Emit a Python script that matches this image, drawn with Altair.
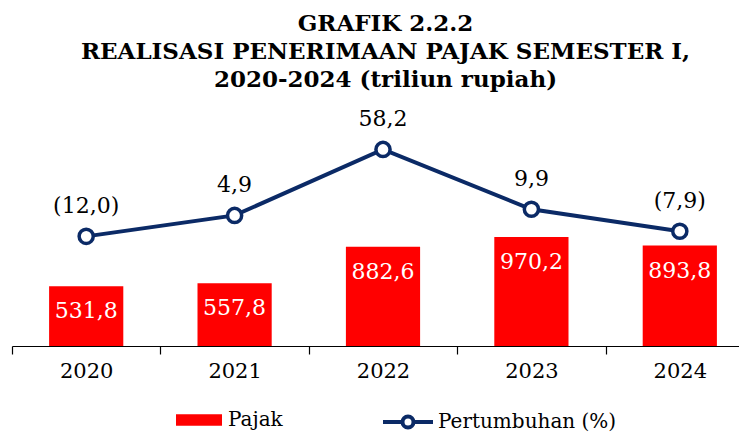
import altair as alt
import pandas as pd

years = ["2020", "2021", "2022", "2023", "2024"]
pajak = [531.8, 557.8, 882.6, 970.2, 893.8]
growth = [-12.0, 4.9, 58.2, 9.9, -7.9]
pajak_labels = ["531,8", "557,8", "882,6", "970,2", "893,8"]
growth_labels = ["(12,0)", "4,9", "58,2", "9,9", "(7,9)"]
series_bar = "Pajak"
series_line = "Pertumbuhan (%)"

df = pd.DataFrame({
    "year": years,
    "pajak": pajak,
    "growth": growth,
    "pl": pajak_labels,
    "gl": growth_labels,
    "s1": [series_bar] * len(years),
    "s2": [series_line] * len(years),
})

RED = "#FF0000"
NAVY = "#0B2A66"
FONT = "DejaVu Serif"

x = alt.X("year:N", sort=years, title=None,
          scale=alt.Scale(paddingInner=0, paddingOuter=0, range=[0, 742]),
          axis=alt.Axis(labelAngle=0, labelFont=FONT, labelFontSize=21, labelColor="#000",
                        labelPadding=6, tickBand="extent", tickSize=8, tickColor="#000",
                        domainColor="#000", domainWidth=1.2, tickWidth=1.2, grid=False))
y_bar = alt.Y("pajak:Q", scale=alt.Scale(domain=[0, 2100]), axis=None)
y_line = alt.Y("growth:Q", scale=alt.Scale(domain=[-100.5, 90]), axis=None)

base = alt.Chart(df)

bars = base.mark_bar(color=RED, width=alt.RelativeBandSize(0.5)).encode(
    x=x, y=y_bar,
    fill=alt.Fill("s1:N", scale=alt.Scale(domain=[series_bar], range=[RED]),
                  legend=alt.Legend(title=None, orient="none", legendX=164, legendY=287,
                                    symbolType="M-1,-0.25H1V0.25H-1Z", symbolSize=2116,
                                    symbolStrokeWidth=0, labelFont=FONT, labelFontSize=20,
                                    labelColor="#000", labelOffset=6, labelLimit=300, padding=0)),
)
bar_text = base.mark_text(dy=25, baseline="middle", color="white", font=FONT, fontSize=22).encode(
    x=x, y=y_bar, text="pl:N")

line = base.mark_line(strokeWidth=4).encode(
    x=x, y=y_line,
    stroke=alt.Stroke("s2:N", scale=alt.Scale(domain=[series_line], range=[NAVY]),
                      legend=alt.Legend(title=None, orient="none", legendX=369, legendY=285,
                                        symbolType="M-1,0H-0.22M0.22,0H1M0.22,0A0.22,0.22 0 1,1 -0.22,0A0.22,0.22 0 1,1 0.22,0",
                                        symbolSize=2500, symbolStrokeWidth=4,
                                        symbolFillColor="white", labelFont=FONT, labelFontSize=20,
                                        labelColor="#000", labelOffset=3, labelLimit=300, padding=0)),
)
points = base.mark_point(shape="circle", filled=True, fill="white", stroke=NAVY,
                         strokeWidth=3.5, size=200, opacity=1).encode(x=x, y=y_line)
growth_text = base.mark_text(dy=-30, baseline="middle", color="#000", font=FONT, fontSize=22).encode(
    x=x, y=y_line, text="gl:N")

chart = alt.layer(bars, bar_text, line, points, growth_text).resolve_scale(
    y="independent"
).properties(
    width=727, height=236,
    title=alt.TitleParams(
        text=["GRAFIK  2.2.2", "REALISASI PENERIMAAN PAJAK SEMESTER I,", "2020-2024 (triliun rupiah)"],
        font=FONT, fontSize=23, fontWeight="bold", color="#000", anchor="middle",
        lineHeight=28, offset=16, dx=10),
    padding={"left": 4, "top": 102, "right": 0, "bottom": 87},
    autosize=alt.AutoSizeParams(type="none"),
).configure_view(stroke=None)

chart.save("out.html", embed_options={"renderer": "svg", "actions": False})
